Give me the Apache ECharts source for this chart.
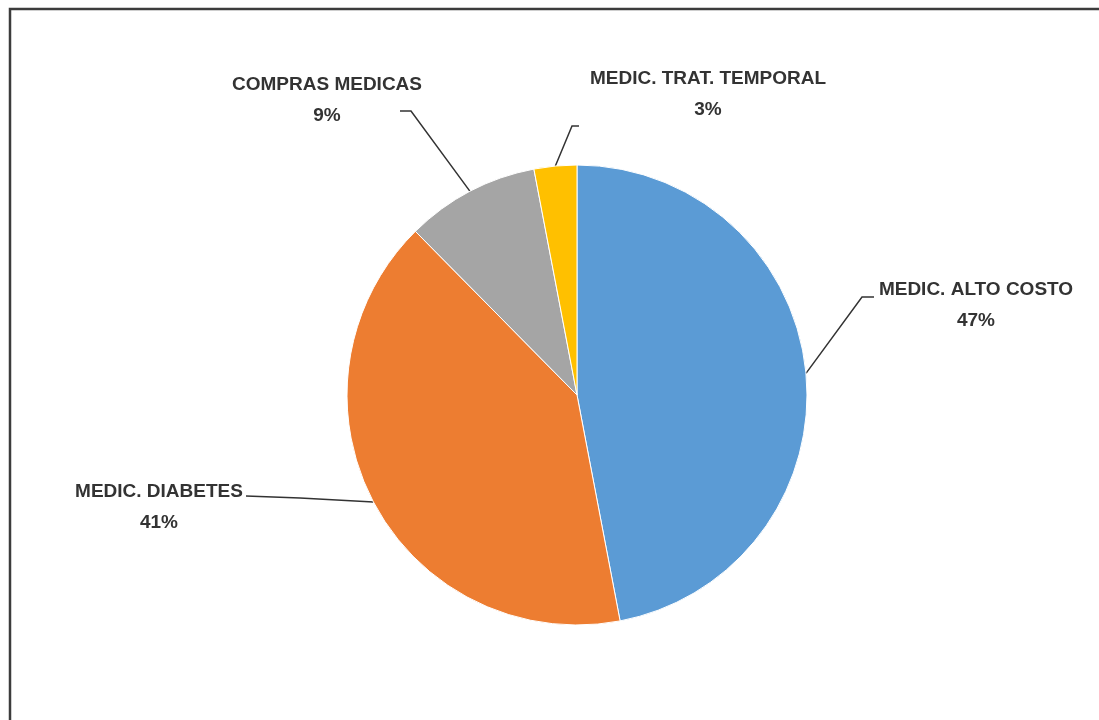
<!DOCTYPE html>
<html>
<head>
<meta charset="utf-8">
<script src="https://cdn.jsdelivr.net/npm/echarts@6/dist/echarts.min.js"></script>
<style>
  html, body { margin: 0; padding: 0; background: #fff; }
  #chart { width: 1099px; height: 720px; }
</style>
</head>
<body>
<div id="chart"></div>
<script>
// categories and shares
const categories = ['MEDIC. ALTO COSTO', 'MEDIC. DIABETES', 'COMPRAS MEDICAS', 'MEDIC. TRAT. TEMPORAL']
const values = [47, 40.6, 9.4, 3]
const colors = ['#5B9BD5', '#ED7D31', '#A5A5A5', '#FFC000']

// where each label sits and the bends of its leader line (Excel style manual placement)
const labelPos = [
  { x: 976, y: 305, line: [[862, 297], [874, 297]] },
  { x: 159, y: 507, line: [[300, 498], [246, 496]] },
  { x: 327, y: 100, line: [[411, 111], [400, 111]] },
  { x: 708, y: 94, line: [[572, 126], [579, 126]] }
]

const chart = echarts.init(document.getElementById('chart'))
const option = {
  animation: false,
  color: colors,
  graphic: [{
    type: 'rect',
    shape: { x: 10, y: 9, width: 1200, height: 800 },
    style: { fill: 'none', stroke: '#3c3c3c', lineWidth: 2.5 },
    silent: true
  }],
  series: [{
    type: 'pie',
    center: [577, 395],
    radius: 230,
    startAngle: 90,
    clockwise: true,
    data: categories.map((name, i) => ({ name: name, value: values[i] })),
    itemStyle: { borderColor: '#fff', borderWidth: 1 },
    label: {
      show: true,
      position: 'outside',
      color: '#333',
      fontFamily: 'Liberation Sans',
      fontWeight: 'bold',
      fontSize: 19,
      lineHeight: 31,
      align: 'center',
      formatter: function(p) {
        return p.name + '\n' + Math.round(p.percent) + '%'
      }
    },
    labelLine: {
      show: true,
      length: 20,
      length2: 10,
      lineStyle: { color: '#333', width: 1.5 }
    },
    labelLayout: function(params) {
      const l = labelPos[params.dataIndex]
      const pts = [params.labelLinePoints[0]].concat(l.line)
      return {
        x: l.x,
        y: l.y,
        align: 'center',
        verticalAlign: 'middle',
        labelLinePoints: pts
      }
    }
  }]
}
chart.setOption(option)
</script>
</body>
</html>
